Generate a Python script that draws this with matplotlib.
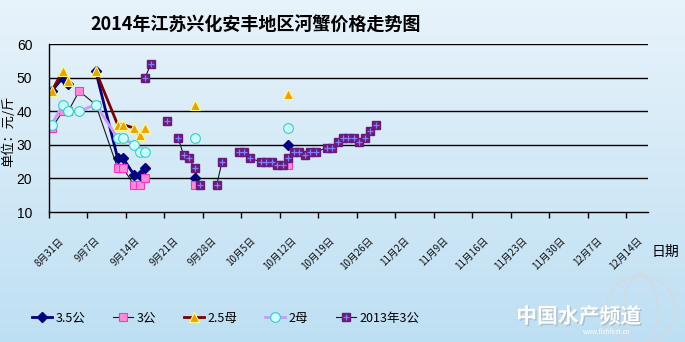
import numpy as np
import pandas as pd
import matplotlib
matplotlib.use('Agg')
import matplotlib.pyplot as plt
import matplotlib.patheffects as pe
from matplotlib.legend_handler import HandlerTuple
from matplotlib.patches import Ellipse

plt.rcParams['font.family'] = ['Noto Sans CJK SC', 'DejaVu Sans']

# 2014年报价（nan = 当天没有报价，折线在此断开）
dates_2014 = ['08-31', '09-02', '09-03', '09-05', '09-08', '09-12', '09-13',
              '09-15', '09-16', '09-17', '09-18', '09-26', '09-27', '10-13']
gong35 = [46, 50, 48, np.nan, 52, 26, 26, 21, 21, 23, np.nan, 20, np.nan, 30]
gong3 = [35, 40, 40, 46, 42, 23, 23, 18, 18, 20, np.nan, 18, np.nan, 24]
mu25 = [46, 52, 49, np.nan, 52, 36, 36, 35, 33, 35, np.nan, 42, np.nan, 45]
mu2 = [36, 42, 40, 40, 42, 32, 32, 30, 28, 28, np.nan, 32, np.nan, 35]

# 2013年3公，按同期日期对齐
dates_2013 = ['09-17', '09-18', '09-19', '09-21', '09-22', '09-23', '09-24',
              '09-25', '09-26', '09-27', '09-28', '09-30', '10-01', '10-02',
              '10-04', '10-05', '10-06', '10-08', '10-09', '10-10', '10-11',
              '10-12', '10-13', '10-14', '10-15', '10-16', '10-17', '10-18',
              '10-20', '10-21', '10-22', '10-23', '10-24', '10-25', '10-26',
              '10-27', '10-28', '10-29']
gong3_2013 = [50, 54, np.nan, 37, np.nan, 32, 27, 26, 23, 18, np.nan, 18, 25,
              np.nan, 28, 28, 26, 25, 25, 25, 24, 24, 26, 28, 28, 27, 28, 28,
              29, 29, 31, 32, 32, 32, 31, 32, 34, 36]

tick_labels = ['8月31日', '9月7日', '9月14日', '9月21日', '9月28日', '10月5日',
               '10月12日', '10月19日', '10月26日', '11月2日', '11月9日',
               '11月16日', '11月23日', '11月30日', '12月7日', '12月14日']


def to_x(ds):
    # 每个点放在当天格子的中间
    return pd.to_datetime(['2014-' + d for d in ds]) + pd.Timedelta(hours=12)


x14 = to_x(dates_2014)
x13 = to_x(dates_2013)

fig = plt.figure(figsize=(6.85, 3.42), dpi=100)

# 背景渐变
bg = fig.add_axes([0, 0, 1, 1], zorder=-10)
grad = np.linspace(0, 1, 256).reshape(-1, 1)
top = np.array([0.910, 0.953, 0.984])
bot = np.array([0.745, 0.875, 0.953])
img = top + (bot - top) * grad[:, :, None]
bg.imshow(img, aspect='auto', extent=[0, 1, 0, 1])
bg.axis('off')

ax = fig.add_axes([0.0715, 0.380, 0.8745, 0.491])
ax.set_facecolor('none')

l1, = ax.plot(x14, gong35, color='#000080', lw=2, marker='D', ms=5,
              mfc='#000080', mec='#000080', label='3.5公')
l2, = ax.plot(x14, gong3, color='#1a1a1a', lw=0.8, marker='s', ms=5.5,
              mfc='#ff8ad8', mec='#ff33cc', mew=0.8, label='3公')
l3, = ax.plot(x14, mu25, color='#800000', lw=2, marker='^', ms=7,
              mfc='#f0a000', mec='#ffff80', mew=0.8, label='2.5母')
l4, = ax.plot(x14, mu2, color='#cc99ff', lw=2, marker='o', ms=7,
              mfc='#ccffff', mec='#33cccc', mew=0.8, label='2母')
l5, = ax.plot(x13, gong3_2013, color='#1a1a1a', lw=0.8, marker='s', ms=6,
              mfc='#6a1a7a', mec='#6a1a7a', label='2013年3公')
l5p, = ax.plot(x13, gong3_2013, ls='none', marker='+', ms=4.5,
               mec='#8080ff', mew=0.9)

ax.set_ylim(10, 60)
ax.set_yticks(range(10, 61, 10))
ax.set_xlim(pd.Timestamp('2014-08-31'), pd.Timestamp('2014-12-18'))
ax.set_xticks(pd.date_range('2014-08-31', periods=len(tick_labels), freq='7D'))
ax.set_xticklabels(tick_labels, rotation=45, ha='center', va='top',
                   fontsize=7, color='#111111')
ax.tick_params(axis='x', length=4, width=1, pad=13, color='black')
ax.tick_params(axis='y', length=0, pad=12, labelsize=10)
for t in ax.get_yticklabels():
    t.set_family(['Liberation Sans', 'DejaVu Sans'])

for y in range(20, 61, 10):
    ax.axhline(y, color='black', lw=1, zorder=0.5)
for s in ['top', 'right']:
    ax.spines[s].set_visible(False)
ax.spines['left'].set_linewidth(1)
ax.spines['bottom'].set_linewidth(1)

fig.text(0.373, 0.927, '2014年江苏兴化安丰地区河蟹价格走势图', ha='center',
         va='center', fontsize=13, fontweight='bold')
fig.text(0.012, 0.617, '单位：元/斤', rotation=90, ha='center', va='center',
         fontsize=9.5)
fig.text(0.951, 0.263, '日期', ha='left', va='center', fontsize=10)

fig.legend([l1, l2, l3, l4, (l5, l5p)], ['3.5公', '3公', '2.5母', '2母', '2013年3公'],
           handler_map={tuple: HandlerTuple(ndivide=1)},
           loc='center left', bbox_to_anchor=(0.03, 0.07), ncol=5,
           frameon=False, fontsize=9, handlelength=1.6, handletextpad=0.3,
           columnspacing=2.2)

# 右下角水印
fig.patches.append(Ellipse((0.935, 0.095), 0.1, 0.2, transform=fig.transFigure,
                           fill=False, ec='#d8d8d8', lw=1.2, alpha=0.7))
fig.patches.append(Ellipse((0.935, 0.095), 0.05, 0.2, transform=fig.transFigure,
                           fill=False, ec='#d8d8d8', lw=1.0, alpha=0.7))
fig.text(0.845, 0.075, '中国水产频道', ha='center', va='center', fontsize=15,
         fontweight='bold', color='white',
         path_effects=[pe.withSimplePatchShadow(offset=(1, -1), shadow_rgbFace='#9aaab5', alpha=0.6)])
fig.text(0.885, 0.028, 'www.fishfirst.cn', ha='center', va='center',
         fontsize=4.5, color='white')

fig.savefig('out.png', dpi=100)
